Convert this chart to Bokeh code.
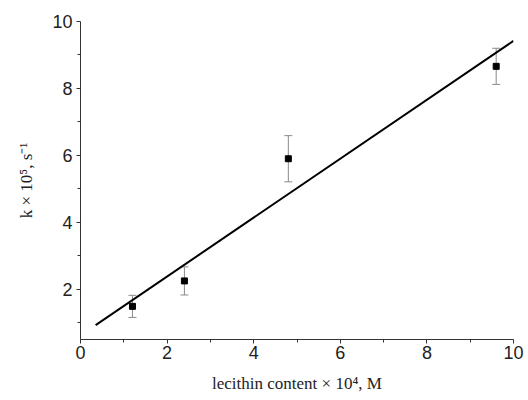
from bokeh.plotting import figure
from bokeh.models import ColumnDataSource, Whisker, TeeHead, FixedTicker, Range1d
from bokeh.embed import file_html
from bokeh.resources import INLINE

# data
conc = [1.2, 2.4, 4.8, 9.6]
k_vals = [1.49, 2.25, 5.90, 8.66]
k_err = [0.33, 0.42, 0.69, 0.54]
fit_x = [0.35, 10.0]
fit_y = [0.93, 9.42]
x_ticks = [0, 2, 4, 6, 8, 10]
x_minor = [1, 3, 5, 7, 9]
y_ticks = [2, 4, 6, 8, 10]
y_minor = [1, 3, 5, 7, 9]
x_title = "lecithin content × 10⁴, M"
y_title = "k × 10⁵, s⁻¹"

p = figure(width=528, height=400, output_backend="svg", toolbar_location=None,
           x_range=Range1d(0, 10), y_range=Range1d(0.5, 10),
           min_border_left=80, min_border_right=15, min_border_top=21, min_border_bottom=61)
p.outline_line_color = None
p.xgrid.visible = False
p.ygrid.visible = False
p.background_fill_color = "white"

src = ColumnDataSource(dict(x=conc, y=k_vals,
                            lo=[v - e for v, e in zip(k_vals, k_err)],
                            hi=[v + e for v, e in zip(k_vals, k_err)]))

w = Whisker(source=src, base="x", lower="lo", upper="hi", line_color="#8a8a8a", line_width=1,
            upper_head=TeeHead(size=8, line_color="#8a8a8a", line_width=1),
            lower_head=TeeHead(size=8, line_color="#8a8a8a", line_width=1))
p.add_layout(w)

p.line(fit_x, fit_y, line_color="black", line_width=2)
p.scatter("x", "y", source=src, marker="square", size=6, fill_color="black", line_color="black")

for ax in (p.xaxis[0], p.yaxis[0]):
    ax.axis_line_color = "#333333"
    ax.major_tick_line_color = "#333333"
    ax.minor_tick_line_color = "#333333"
    ax.major_tick_in = 0
    ax.major_tick_out = 4
    ax.minor_tick_in = 0
    ax.minor_tick_out = 3
    ax.major_label_text_font = "Liberation Sans"
    ax.major_label_text_font_size = "18px"
    ax.major_label_text_color = "#222222"
    ax.axis_label_text_font = "Liberation Serif"
    ax.axis_label_text_font_size = "17px"
    ax.axis_label_text_font_style = "normal"
    ax.axis_label_text_color = "#222222"

p.xaxis[0].ticker = FixedTicker(ticks=x_ticks, minor_ticks=x_minor)
p.yaxis[0].ticker = FixedTicker(ticks=y_ticks, minor_ticks=y_minor)
p.xaxis[0].axis_label = x_title
p.yaxis[0].axis_label = y_title
p.xaxis[0].major_label_standoff = 2
p.yaxis[0].major_label_standoff = 4
p.xaxis[0].axis_label_standoff = 12
p.yaxis[0].axis_label_standoff = 13

open("out.html", "w").write(file_html(p, INLINE))
